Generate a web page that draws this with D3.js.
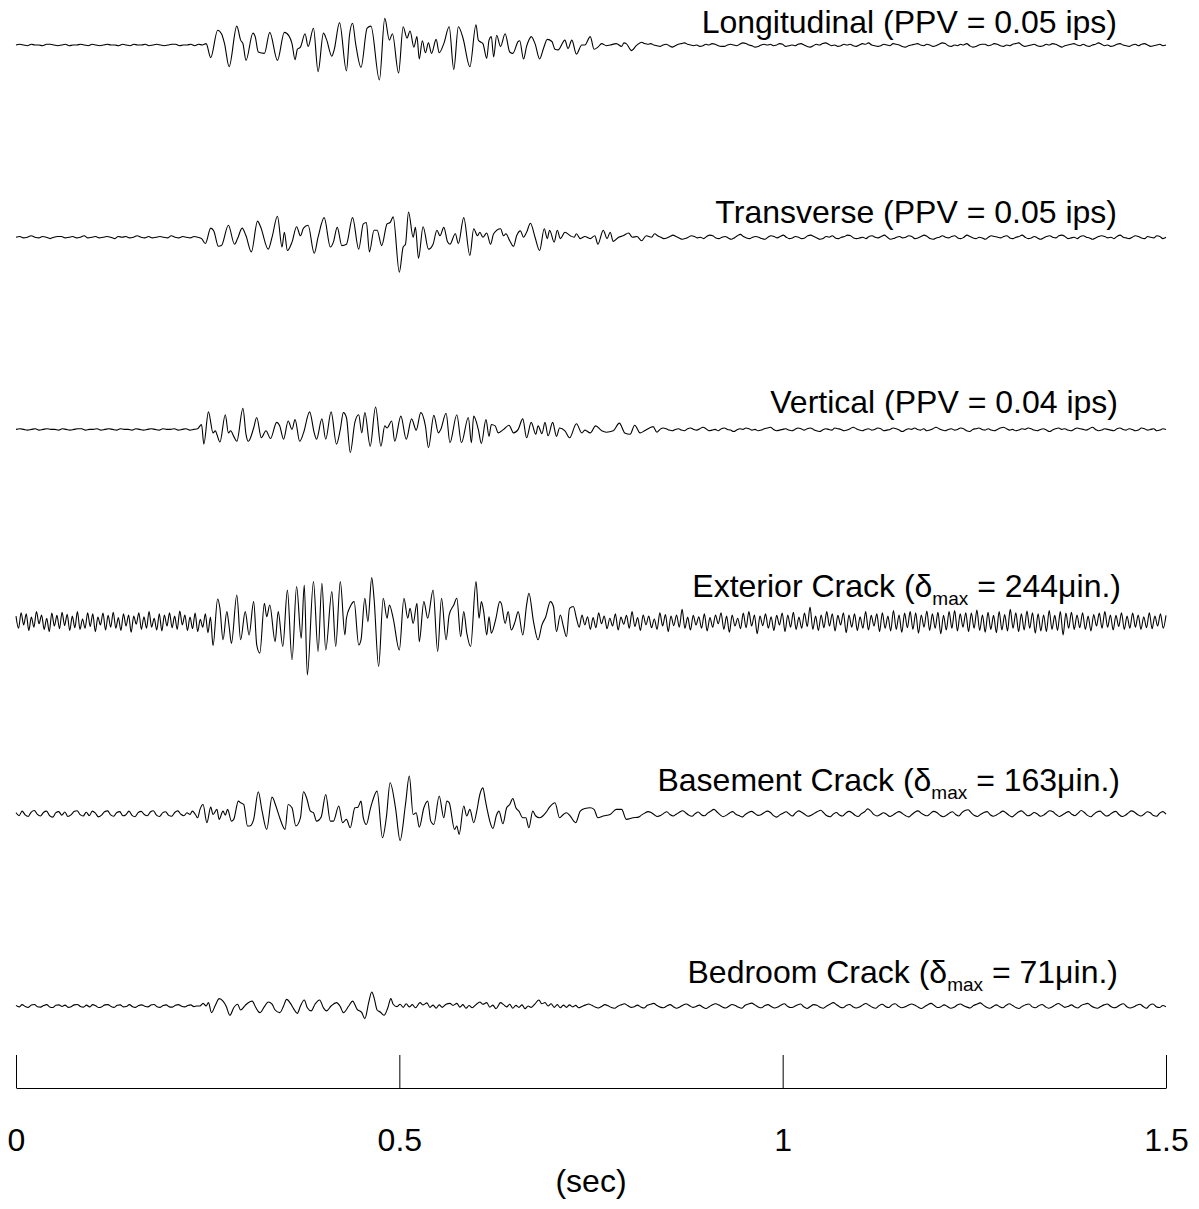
<!DOCTYPE html>
<html><head><meta charset="utf-8">
<script src="https://cdn.jsdelivr.net/npm/d3@7"></script>
<style>body{margin:0;background:#fff;} svg{display:block;} text{font-family:"Liberation Sans",Arial,sans-serif;}</style>
</head><body><svg id="chart" width="1199" height="1209"></svg>
<script>
// ---------------- DATA ----------------
const traceNames = ["Longitudinal","Transverse","Vertical","Exterior Crack","Basement Crack","Bedroom Crack"];
const traceKind = ["vel","vel","vel","crack","crack","crack"]; // vel: 0.001 ips, crack: micro-inches
const labelParts = [
  ["Longitudinal (PPV = 0.05 ips)"],
  ["Transverse (PPV = 0.05 ips)"],
  ["Vertical (PPV = 0.04 ips)"],
  ["Exterior Crack (\u03b4", "max", " = 244\u03bcin.)"],
  ["Basement Crack (\u03b4", "max", " = 163\u03bcin.)"],
  ["Bedroom Crack (\u03b4", "max", " = 71\u03bcin.)"]
];
const tickVals = [0, 0.5, 1, 1.5];
const axisTitle = "(sec)";

// Longitudinal (0.001 ips)
const longPre = [0,1,0,-1,1,0,0,-1,1,1,0,-1,0,1,-1,0,0,1,0,-1,1,0,-1,0,1,0,0,-1,1,0,-1,1,0,0,1,-1,0,1,0,-1,0,1,1,-1,0,0,1,-1,1,0];
const longEvent = [[248,2],[254,-18],[263,21],[268,16],[272,2],[278,-31],[288,27],[293,7],[296,2],[300,-22],[309,17],[312,12],[316,-10],[324,-12],[331,18],[341,-22],[350,18],[356,13],[360,2],[364,-21],[367,-6],[371,-3],[377,16],[381,-2],[388,24],[394,-38],[401,17],[405,8],[412,-16],[415,-7],[422,32],[431,-37],[435,14],[439,31],[443,2],[450,-32],[458,24],[463,27],[474,-50],[481,38],[487,7],[491,16],[499,-40],[505,26],[510,10],[514,20],[519,-3],[523,12],[526,-20],[530,6],[534,-11],[538,3],[542,-12],[548,8],[552,-11],[558,2],[565,26],[571,-35],[577,26],[583,10],[592,-31],[600,29],[603,7],[605,5],[609,2],[614,-19],[617,7],[620,12],[623,-17],[627,14],[632,-2],[638,16],[644,-10],[648,-12],[655,5],[657,6],[662,-20],[666,-2],[669,7],[672,12],[677,2],[683,-20],[688,-5],[693,8],[699,5],[703,-6],[707,-7],[716,7],[720,-5],[725,7],[731,-13],[738,0],[742,0],[749,12],[754,-6],[759,-3],[764,2],[770,-1],[775,0],[783,2],[790,-2],[793,3],[796,2],[803,-8],[809,-1],[816,4],[820,2]];
const longPost = [1,2,0,-1,-2,0,1,-1,-3,-1,1,2,3,1,0,-1,0,-2,-1,1,0,2,1,-1,-2,-2,0,1,0,-1,1,3,2,0,-1,-3,-2,0,1,0,1,-1,0,2,1,-2,-1,0,-1,1,2,0,-2,-3,-1,1,0,2,3,1,-1,0,-2,-1,1,0,1,-1,-2,0,2,1,3,0,-1,-2,-1,1,0,-1,2,1,0,-2,-3,-1,0,1,2,0,-1,1,0,-2,-1,1,3,2,-1,-2,0,-1,1,0,2,-1,-3,-2,0,1,1,-1,0,2,1,-1,-2,0,-1,1,2,3,0,-2,-1,0,1,-1,-2,-1,1,0,2,1,-1,-3,-1,0,1,2,0,-1,1,-1,-2,0,1,3,1,-1,0,-2,-1,1,2,0,-1,-2,0,1,-1,1,2,0,-2,-1,0,1,-1,0];

// Transverse (0.001 ips)
const transPre = [0,1,-1,0,2,0,-1,1,0,-2,0,1,1,-1,0,1,-1,0,2,-1,0,1,-1,0,1,0,-2,1,0,1,-1,0,2,0,-1,1,-1,0,1,0,-1,2,0,-1,1,0,-1,1,0,-2];
const transEvent = [[247,-9],[254,13],[258,9],[264,-13],[268,-12],[277,17],[285,-10],[289,-2],[295,13],[300,2],[307,-21],[315,23],[319,15],[329,-17],[334,0],[341,30],[347,-14],[350,7],[354,-19],[360,-7],[366,15],[371,2],[375,13],[381,17],[389,-23],[394,0],[402,28],[410,-14],[414,-7],[419,14],[425,-12],[431,-10],[439,28],[447,-17],[453,19],[457,21],[461,-21],[467,10],[471,10],[477,-12],[484,19],[488,21],[492,29],[500,-50],[505,-14],[508,-10],[512,36],[518,0],[521,14],[525,-30],[531,15],[538,-17],[544,-10],[549,10],[553,2],[558,14],[563,-7],[566,-10],[573,5],[577,-9],[584,28],[592,-26],[597,12],[602,2],[605,7],[609,0],[614,6],[619,-10],[623,5],[632,12],[636,2],[639,5],[644,-5],[649,-13],[653,2],[658,9],[662,0],[666,7],[671,20],[677,0],[683,-19],[689,12],[693,-2],[696,10],[702,-7],[706,10],[710,-2],[716,7],[723,2],[728,0],[731,5],[736,-2],[742,1],[749,-2],[755,2],[759,-10],[766,10],[771,-2],[775,7],[779,-6],[786,0],[792,2],[799,6],[804,0],[810,1],[816,-5],[822,2],[829,0],[833,5]];
const transPost = [2,0,-2,-1,1,3,1,-1,-3,-2,0,2,1,-1,0,-2,1,3,2,-1,-2,0,1,-1,-3,-1,2,4,1,-1,-2,0,1,0,-2,-3,0,2,1,-1,1,3,0,-2,-1,1,0,-2,-1,2,3,1,-1,-3,-2,1,0,2,-1,-2,0,1,3,2,-1,-2,-1,0,-2,1,2,0,-1,1,3,0,-3,-2,0,1,-1,0,2,1,-2,-1,1,3,1,-2,-3,-1,0,2,0,-1,1,2,-1,-2,0,3,1,-1,-2,0,-1,-3,0,2,1,0,-1,1,2,-1,-2,0,1,3,0,-2,-1,1,-1,-3,-1,1,2,0,-1,2,3,1,-2,-1,0,-2,1,2,0,-1,-3,-1,1,2,1,-1,0,-2,1,3,0,-1,-2,0,2,1,-1,-2,1,0,-1,2,1,-2,0];

// Vertical (0.001 ips)
const vertPre = [0,1,0,-1,0,1,-1,0,1,0,0,-1,1,0,-1,0,1,1,-1,0,0,1,-1,0,1,0,-1,1,0,0,-1,1,0,-1,0,1,0,-1,1,0,0,1,-1,0,1,-1,0,1];
const vertEvent = [[242,7],[245,-21],[251,25],[257,-5],[260,-2],[262,-7],[266,-18],[273,21],[277,-5],[280,-2],[284,-10],[288,-17],[296,30],[300,-7],[303,-17],[310,2],[314,17],[320,-12],[326,-2],[332,-13],[340,10],[344,5],[349,-14],[355,12],[360,0],[364,14],[370,-17],[375,-5],[383,25],[389,-5],[392,-14],[399,15],[404,-14],[411,25],[418,-21],[423,0],[427,24],[431,17],[436,-33],[442,10],[447,21],[451,-5],[455,24],[462,-24],[469,32],[476,-24],[481,5],[484,2],[490,12],[494,-17],[502,19],[509,-14],[516,15],[522,-1],[528,24],[534,5],[538,-26],[545,20],[551,-5],[554,0],[561,23],[566,-19],[575,21],[581,-19],[590,17],[594,-19],[597,19],[603,0],[607,-20],[613,14],[617,-10],[620,7],[625,5],[629,-5],[636,0],[643,6],[649,-5],[655,0],[661,15],[666,-12],[672,10],[678,-7],[681,5],[686,-6],[690,10],[694,-9],[700,10],[705,-10],[709,2],[716,-2],[722,-12],[731,8],[738,-5],[742,-1],[749,-5],[756,5],[764,-2],[770,-4],[779,-2],[787,9],[794,-5],[801,-7],[807,6],[814,-5],[820,-2],[831,4],[836,-4]];
const vertPost = [0,2,1,-1,-2,0,1,-1,-2,1,2,0,-1,1,3,1,-2,-1,0,-2,1,2,0,-1,-3,-1,1,0,2,1,-1,0,-2,-1,1,2,3,0,-2,-1,0,1,-1,-2,0,2,1,-1,1,2,0,-2,-3,-1,1,0,-1,2,1,0,-2,-1,1,3,1,-1,-2,0,1,-1,0,2,1,-2,-1,0,2,1,-1,-3,-1,1,0,2,0,-1,1,-2,-1,1,3,1,-1,-2,0,1,-1,0,2,1,-2,-3,0,1,2,0,-1,1,-1,-2,0,2,3,1,-1,0,-2,-1,1,0,2,1,-1,-2,0,1,-1,-3,-1,1,2,0,1,-1,-2,0,2,1,0,-1,1,3,0,-2,-1,1,0,-1,-2,1,2,0,-1,1,0,-2,-1,2,1,-1,0,1,-2,-1,1,0];

// Exterior crack (micro-inches)
const extPre = [25,-30,40,-15,35,-40,20,-25,45,-10,30,-35,15,-45,38,-20,28,-32,42,-18,33,-40,25,-28,45,-35,12,-30,40,-22,35,-45,20,-15,38,-38,28,-25,42,-30,18,-40,35,-20,30,-48,25,-12,40,-35,22,-30,45,-25,15,-38,35,-42,30,-20,40,-28,25,-35,48,-15,30,-40,20,-32,38,-45,10,-25,35,-50,20];
const extEvent = [[257,-108],[263,102],[266,60],[270,-82],[275,45],[278,-22],[281,-98],[288,120],[293,-82],[299,45],[304,-60],[310,90],[314,-105],[318,-142],[324,82],[327,22],[331,75],[338,-90],[342,45],[348,-112],[354,142],[360,-172],[366,158],[372,-75],[376,165],[380,-240],[388,180],[394,-135],[399,172],[404,-128],[412,135],[417,-112],[423,180],[429,-60],[431,15],[436,68],[441,90],[447,-105],[450,-82],[455,105],[459,0],[464,198],[467,105],[473,-202],[479,105],[484,15],[487,75],[492,15],[500,-128],[506,105],[511,15],[514,60],[518,-8],[523,82],[526,-90],[532,90],[537,15],[544,142],[550,-135],[555,105],[561,-82],[565,30],[571,75],[575,105],[580,-68],[584,45],[588,-52],[593,-112],[600,180],[604,15],[607,90],[610,45],[614,-60],[617,22],[620,-52],[626,15],[631,90],[633,82],[638,-8],[642,45],[646,-38],[651,0],[655,45],[661,-60],[666,75],[669,128],[675,0],[681,-82],[686,-15],[691,22],[697,90],[701,68],[705,-45],[710,30],[714,-22],[718,-68],[722,60],[727,68],[731,15]];
const extPost = [-25,30,-15,22,-35,18,-28,40,-10,25,-32,15,-20,35,-38,20,-12,28,-30,45,-22,18,-40,30,-15,25,-28,12,-35,40,-20,32,-45,25,-18,30,-25,55,-30,20,-38,28,-15,22,-30,35,-42,18,-25,30,-10,40,-35,25,-48,30,-20,15,-32,38,-28,45,-20,30,-55,25,-18,35,-30,22,-40,28,-15,38,-45,30,-25,42,-35,20,-30,38,-22,65,-35,25,-40,30,-28,45,-20,35,-42,28,-15,40,-50,30,-25,35,-40,22,-30,45,-38,28,-20,35,-45,40,-30,25,-42,50,-35,30,-48,38,-28,45,-35,40,-52,30,-25,48,-40,35,-30,42,-55,28,-38,45,-30,50,-42,35,-25,40,-45,38,-30,52,-40,30,-48,42,-35,28,-50,45,-38,32,-42,55,-30,40,-45,35,-38,48,-30,40,-52,35,-42,30,-45,50,-35,28,-40,45,-60,38,-30,42,-35,30,-28,40,-35,25,-42,32,-20,38,-30,45,-25,30,-38,28,-22,40,-35,25,-30,38,-25,30,-35,22,-28,40,-32,25,-20,35,-30,28];

// Basement crack (micro-inches)
const basePre = [5,-8,12,-5,-12,8,15,-3,-10,6,12,-8,-15,4,10,-6,8,-12,-5,10,14,-4,-10,7,-8,12,3,-14,-6,9,13,-5,-11,6,10,-9,-4,12,-7,-13,5,11,-3,-9,8,14,-6,-12,4,9,-7,-11,6,13,-2,-9,5];
const baseEvent = [[227,-3],[230,12],[234,-3],[237,-18],[240,20],[244,42],[249,-40],[254,30],[257,-3],[262,20],[265,-25],[270,12],[273,-6],[276,20],[281,-33],[284,-25],[290,57],[293,50],[297,42],[302,-55],[305,-55],[310,-25],[316,99],[321,12],[327,-70],[334,75],[339,35],[344,-18],[351,-70],[355,42],[360,27],[365,-55],[371,-18],[375,99],[379,72],[384,12],[388,5],[392,-33],[398,-15],[404,87],[410,-33],[414,-33],[421,35],[426,-40],[431,-25],[436,-63],[442,27],[446,30],[450,57],[453,-18],[457,-48],[462,20],[465,57],[471,102],[478,-108],[483,-18],[488,140],[495,27],[501,-120],[508,42],[513,170],[518,-3],[522,5],[526,-60],[532,27],[537,57],[541,-33],[545,-48],[552,80],[558,-18],[562,57],[565,50],[572,-70],[575,-55],[578,-93],[584,35],[588,-10],[592,20],[597,-40],[601,12],[605,87],[609,117],[612,65],[615,12],[618,-33],[622,-66],[627,-3],[630,12],[635,-45],[640,27],[644,42],[648,69],[652,27],[656,12],[661,-18],[665,-18],[669,-63],[674,12],[678,-10],[683,-18],[691,5],[696,30],[703,50],[709,-18],[714,-3],[718,5],[722,-6],[730,-40],[736,12],[742,24],[749,27],[754,20],[759,-18],[766,-10],[775,-3],[783,20],[790,20],[796,-25],[805,-18],[812,-15]];
const basePost = [-5,3,10,6,-4,-12,-8,2,9,-3,-10,-2,7,14,5,-6,-11,0,8,-4,-9,3,12,20,8,-5,-13,-6,4,10,-2,-8,-14,-3,6,11,2,-7,-4,5,12,6,-8,-15,-5,3,9,-1,-10,4,13,7,-3,-11,-6,2,10,16,4,-9,-13,-2,6,-5,-10,3,11,5,-7,-12,1,9,22,12,-4,-10,-3,5,-2,-12,-6,4,10,2,-8,-14,-4,7,13,3,-5,-9,2,11,6,-6,-13,-7,3,9,-3,-10,5,15,18,4,-8,-12,-2,6,10,-4,-11,-5,3,12,5,-7,-14,-3,8,13,2,-9,-4,6,-1,-11,-6,5,14,9,-3,-12,-5,4,10,-2,-9,3,15,6,-7,-13,-2,8,12,0,-10,-5,6,11,-3,-12,-7,4,13,7,-4,-10,-2,9,5,-8,-11,3,10,-1];

// Bedroom crack (micro-inches)
const bedPre = [3,-4,6,-2,-6,4,7,-3,-5,2,6,-4,-7,3,5,-2,4,-6,-3,5,7,-2,-5,4,-4,6,1,-7,-3,5,6,-2,-6,3,5,-4,-2,6,-3,-6,2,5,-1,-4,4,7,-3,-6,2,5,-4,-5,3,6,-1,-4,2,5,-3,0];
const bedEvent = [[240,0],[244,12],[248,0],[251,15],[255,-30],[260,3],[265,33],[270,22],[274,0],[279,-42],[284,-8],[289,8],[293,-18],[299,3],[303,15],[308,22],[313,-8],[318,-30],[324,-3],[329,18],[334,8],[338,-18],[344,-30],[349,0],[353,30],[358,12],[362,-12],[367,-33],[371,0],[376,27],[380,-8],[385,-22],[390,8],[396,27],[401,-8],[405,-22],[411,0],[418,15],[423,-3],[427,-30],[434,0],[439,22],[445,-15],[451,-30],[455,-57],[460,15],[464,63],[467,38],[471,-18],[475,-27],[480,-42],[485,-8],[489,33],[492,8],[497,-3],[501,8],[505,-6],[509,10],[513,-4],[517,6],[521,-8],[527,15],[531,5],[536,14],[540,-6],[544,4],[548,-10],[552,5],[556,-6],[561,8],[566,12],[570,3],[575,12],[579,-5],[583,6],[587,-10],[591,2],[595,-8],[600,6],[605,18],[609,8],[614,15],[618,-5],[622,4],[626,-12],[632,15],[636,6],[640,-4],[644,8],[648,-10],[652,3],[656,-6],[660,5],[664,-12],[668,0],[672,-6],[677,10],[682,27],[686,10],[690,16],[694,0],[698,10],[702,-6],[706,6],[710,-8],[714,4],[718,-6],[722,5],[726,-4],[730,3],[734,-8]];
const bedPost = [-2,4,9,3,-5,-9,-2,6,1,-7,-10,-1,5,10,2,-6,-3,4,-4,-9,3,8,12,2,-5,-8,0,6,-3,-10,-4,5,9,1,-6,-2,4,-5,-11,-3,6,10,4,-4,-9,-1,7,2,-6,-10,3,9,13,5,-4,-8,1,6,-2,-9,-5,4,10,-1,-7,-3,5,9,-4,-11,-2,6,3,-6,-10,0,8,15,6,-4,-8,2,7,-3,-9,-5,4,11,3,-6,-10,1,8,-2,-7,5,10,-1,-8,-4,3,9,4,-5,-11,-3,6,12,2,-7,-3,5,-2,-10,-6,4,9,1,-5,-9,2,8,14,4,-6,-10,-2,5,-3,-8,3,10,2,-7,-11,-1,6,9,-4,-8,1,7,-3,-10,-5,4,11,3,-6,-2,5,-4,-9,2,8,12,1,-7,-10,-2,5,9,-1,-8,-4,6,10,-3,-9,-5,3,8,-2,-10,4,9,-3,-7,2,-4];

const traceData = [
  [longPre, longEvent, longPost],
  [transPre, transEvent, transPost],
  [vertPre, vertEvent, vertPost],
  [extPre, extEvent, extPost],
  [basePre, baseEvent, basePost],
  [bedPre, bedEvent, bedPost]
];
const durationMs = 1500;

// ---------------- CHART ----------------
const W = 1199, H = 1209;
const svg = d3.select("#chart");
svg.append("rect").attr("width", W).attr("height", H).attr("fill", "#fff");

const x = d3.scaleLinear().domain([0, 1.5]).range([16, 1166]);
const rowY = d3.scalePoint().domain(traceNames).range([45, 1006]);
const yVel = d3.scaleLinear().domain([-50, 50]).range([35, -35]);
const yCrack = d3.scaleLinear().domain([-250, 250]).range([55.5, -55.5]);

function buildSeries(pre, evt, post) {
  const s = [];
  const t0 = evt[0][0];
  const st = t0 / pre.length;
  pre.forEach((v, k) => s.push([k * st, v]));
  evt.forEach(p => s.push(p));
  const t1 = evt[evt.length - 1][0];
  const st2 = (durationMs - t1) / post.length;
  post.forEach((v, k) => s.push([t1 + (k + 1) * st2, v]));
  return s;
}

const labelY = [33, 223, 413, 597, 791, 983];
const labelX = [1117, 1117, 1118, 1121, 1120, 1118];

traceNames.forEach((name, i) => {
  const series = buildSeries(...traceData[i]);
  const ys = traceKind[i] === "vel" ? yVel : yCrack;
  const base = rowY(name);
  const line = d3.line()
    .x(d => x(d[0] / 1000))
    .y(d => base + ys(d[1]))
    .curve(d3.curveMonotoneX);
  svg.append("path")
    .attr("d", line(series))
    .attr("fill", "none")
    .attr("stroke", "#000")
    .attr("stroke-width", 1.1)
    .attr("stroke-linejoin", "round");

  const t = svg.append("text")
    .attr("x", labelX[i]).attr("y", labelY[i])
    .attr("text-anchor", "end")
    .attr("font-size", 32)
    .attr("fill", "#000");
  const parts = labelParts[i];
  if (parts.length === 1) {
    t.text(parts[0]);
  } else {
    t.append("tspan").text(parts[0]);
    t.append("tspan").attr("font-size", 19).attr("dy", 8).text(parts[1]);
    t.append("tspan").attr("dy", -8).text(parts[2]);
  }
});

// axis
const axis = d3.axisBottom(x)
  .tickValues(tickVals)
  .tickSize(-33)
  .tickSizeOuter(0)
  .tickPadding(40)
  .tickFormat(d3.format(""));
const gAxis = svg.append("g").attr("transform", "translate(0,1088)").call(axis);
gAxis.attr("font-family", null).attr("font-size", null);
gAxis.selectAll("text").attr("font-size", 32).attr("fill", "#000")
  .style("font-family", "'Liberation Sans', Arial, sans-serif");
gAxis.selectAll("line").attr("stroke", "#000").attr("stroke-width", 1);
gAxis.select(".domain").attr("stroke", "#000").attr("stroke-width", 1);

svg.append("text")
  .attr("x", x(0.75)).attr("y", 1192)
  .attr("text-anchor", "middle")
  .attr("font-size", 32)
  .attr("fill", "#000")
  .text(axisTitle);
</script>
</body></html>
